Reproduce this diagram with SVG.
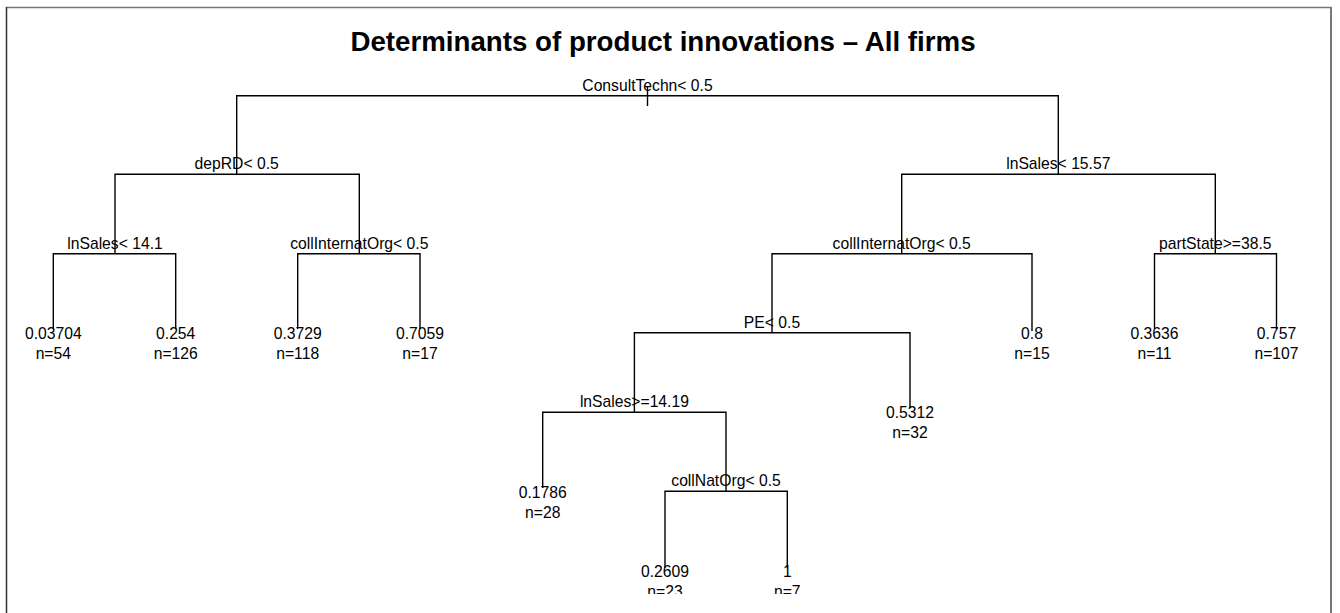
<svg xmlns="http://www.w3.org/2000/svg" width="1340" height="613" viewBox="0 0 1340 613">
<style>
.t{font-family:"Liberation Sans",Arial,sans-serif;font-size:15.7px;fill:#000;text-anchor:middle}
.title{font-family:"Liberation Sans",Arial,sans-serif;font-size:27.7px;font-weight:bold;fill:#000;text-anchor:middle}
.e{fill:none;stroke:#000;stroke-width:1.4}
</style>
<defs>
<clipPath id="plot"><rect x="0" y="0" width="1340" height="594"/></clipPath>
</defs>
<rect x="0" y="0" width="1340" height="613" fill="#fff"/>
<g id="frame">
<line x1="6" y1="7.5" x2="1332" y2="7.5" stroke="#777" stroke-width="1.5"/>
<line x1="6.5" y1="7" x2="6.5" y2="613" stroke="#333" stroke-width="1.5"/>
<line x1="1331" y1="7" x2="1331" y2="613" stroke="#777" stroke-width="2"/>
</g>
<text class="title" x="663" y="51">Determinants of product innovations – All firms</text>
<g id="connectors" clip-path="url(#plot)">
<path class="e" d="M647.5 87 V106"/>
<path class="e" d="M236.7 174.3 V95.7 H1058.3 V174.3"/>
<path class="e" d="M115 253.7 V174.3 H359.3 V253.7"/>
<path class="e" d="M53.3 329 V253.7 H175.7 V329"/>
<path class="e" d="M297.7 329 V253.7 H420 V329"/>
<path class="e" d="M901.7 253.7 V174.3 H1215.3 V253.7"/>
<path class="e" d="M772 332.7 V253.7 H1032 V331"/>
<path class="e" d="M1154.5 329 V253.7 H1276.5 V329"/>
<path class="e" d="M634.4 412.3 V332.7 H910 V408"/>
<path class="e" d="M542.7 488 V412.3 H726 V491.3"/>
<path class="e" d="M665 568 V491.3 H787.3 V568"/>
</g>
<g clip-path="url(#plot)">
<g id="n_root"><text class="t" x="647.5" y="90.7">ConsultTechn&lt; 0.5</text></g>
<g id="n_depRD"><text class="t" x="236.7" y="169.3">depRD&lt; 0.5</text></g>
<g id="n_lnSales1"><text class="t" x="115" y="248.7">lnSales&lt; 14.1</text></g>
<g id="n_collIntA"><text class="t" x="359.3" y="248.7">collInternatOrg&lt; 0.5</text></g>
<g id="n_lnSales2"><text class="t" x="1058.3" y="169.3">lnSales&lt; 15.57</text></g>
<g id="n_collIntB"><text class="t" x="901.7" y="248.7">collInternatOrg&lt; 0.5</text></g>
<g id="n_partState"><text class="t" x="1215.3" y="248.7">partState&gt;=38.5</text></g>
<g id="n_PE"><text class="t" x="772" y="327.7">PE&lt; 0.5</text></g>
<g id="n_lnSales3"><text class="t" x="634.4" y="407.3">lnSales&gt;=14.19</text></g>
<g id="n_collNat"><text class="t" x="726" y="486.3">collNatOrg&lt; 0.5</text></g>
<g id="l1"><text class="t" x="53.3" y="339">0.03704</text><text class="t" x="53.3" y="359">n=54</text></g>
<g id="l2"><text class="t" x="175.7" y="339">0.254</text><text class="t" x="175.7" y="359">n=126</text></g>
<g id="l3"><text class="t" x="297.7" y="339">0.3729</text><text class="t" x="297.7" y="359">n=118</text></g>
<g id="l4"><text class="t" x="420" y="339">0.7059</text><text class="t" x="420" y="359">n=17</text></g>
<g id="l5"><text class="t" x="1032" y="339">0.8</text><text class="t" x="1032" y="359">n=15</text></g>
<g id="l6"><text class="t" x="1154.5" y="339">0.3636</text><text class="t" x="1154.5" y="359">n=11</text></g>
<g id="l7"><text class="t" x="1276.5" y="339">0.757</text><text class="t" x="1276.5" y="359">n=107</text></g>
<g id="l8"><text class="t" x="910" y="417.5">0.5312</text><text class="t" x="910" y="437.5">n=32</text></g>
<g id="l9"><text class="t" x="542.7" y="498">0.1786</text><text class="t" x="542.7" y="518">n=28</text></g>
<g id="l10"><text class="t" x="665" y="577">0.2609</text><text class="t" x="665" y="597">n=23</text></g>
<g id="l11"><text class="t" x="787.3" y="577">1</text><text class="t" x="787.3" y="597">n=7</text></g>
</g>
</svg>
